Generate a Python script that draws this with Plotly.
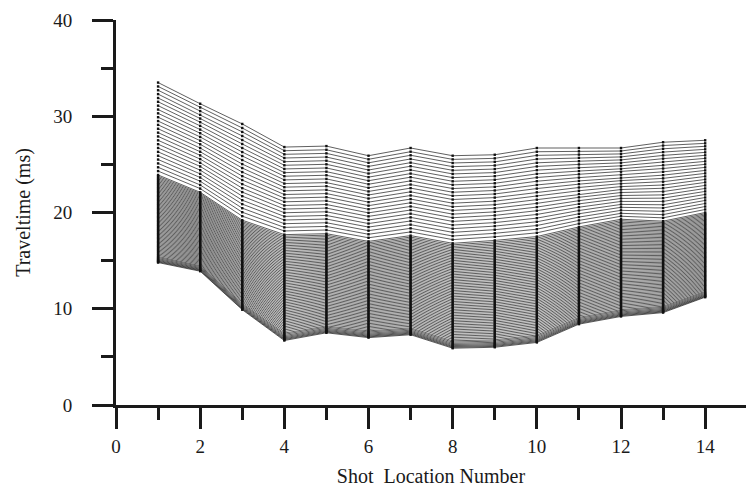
import plotly.graph_objects as go

# Shot locations
shots = [1, 2, 3, 4, 5, 6, 7, 8, 9, 10, 11, 12, 13, 14]

# Envelope curves (ms)
first_arrival = [14.8, 13.9, 9.9, 6.7, 7.5, 7.0, 7.3, 5.9, 6.0, 6.5, 8.4, 9.2, 9.6, 11.2]
dense_top = [23.9, 22.1, 19.2, 17.7, 17.8, 17.0, 17.6, 16.8, 17.1, 17.5, 18.5, 19.3, 19.1, 20.0]
last_arrival = [33.5, 31.3, 29.2, 26.8, 26.9, 25.9, 26.7, 25.9, 26.0, 26.7, 26.7, 26.7, 27.3, 27.5]

# Relative position of each receiver curve inside the dense band (0 = first arrival, 1 = dense top)
dense_pos = [0.000, 0.008, 0.016, 0.025, 0.035, 0.046, 0.058, 0.070,
             0.085, 0.100, 0.115, 0.130, 0.145, 0.160, 0.175, 0.190, 0.205, 0.220,
             0.235, 0.250, 0.265, 0.280, 0.295, 0.310, 0.325, 0.340, 0.355, 0.370,
             0.385, 0.400, 0.415, 0.430, 0.445, 0.460, 0.475, 0.490, 0.505, 0.520,
             0.535, 0.550, 0.565, 0.580, 0.595, 0.610, 0.625, 0.640, 0.655, 0.670,
             0.685, 0.700, 0.715, 0.730, 0.745, 0.760, 0.775, 0.790, 0.805, 0.820,
             0.835, 0.850, 0.865, 0.880, 0.895, 0.910, 0.925, 0.940, 0.955, 0.970,
             0.985, 1.000]
# Relative position of each receiver curve in the sparse band (0 = dense top, 1 = last arrival)
sparse_pos = [0.042, 0.083, 0.125, 0.167, 0.208, 0.250, 0.292, 0.333, 0.375, 0.417,
              0.458, 0.500, 0.542, 0.583, 0.625, 0.667, 0.708, 0.750, 0.792, 0.833,
              0.875, 0.917, 0.958, 1.000]

x_tick_vals = [0, 2, 4, 6, 8, 10, 12, 14]
y_tick_vals = [0, 10, 20, 30, 40]

xs, ys = [], []
for f in dense_pos:
    for i, s in enumerate(shots):
        xs.append(s)
        ys.append(first_arrival[i] + f * (dense_top[i] - first_arrival[i]))
    xs.append(None); ys.append(None)
for g in sparse_pos:
    for i, s in enumerate(shots):
        xs.append(s)
        ys.append(dense_top[i] + g * (last_arrival[i] - dense_top[i]))
    xs.append(None); ys.append(None)

fig = go.Figure()
fig.add_trace(go.Scatter(
    x=xs, y=ys, mode="lines+markers",
    line=dict(color="#1a1a1a", width=0.7),
    marker=dict(color="#111111", size=2.4, symbol="square"),
    connectgaps=False, showlegend=False, hoverinfo="skip",
))

font_family = "Liberation Serif"
fig.update_layout(
    width=746, height=497,
    margin=dict(l=116, r=0, t=20, b=92),
    paper_bgcolor="white", plot_bgcolor="white",
    font=dict(family=font_family, size=19, color="#1a1a1a"),
)
fig.update_xaxes(
    range=[0, 14.97], showgrid=False, zeroline=False,
    showline=True, linecolor="#1a1a1a", linewidth=3,
    tickmode="array", tickvals=x_tick_vals,
    ticks="outside", ticklen=21, tickwidth=3, tickcolor="#1a1a1a",
    minor=dict(dtick=1, tick0=0, ticks="outside", ticklen=12, tickwidth=3, tickcolor="#1a1a1a"),
    ticklabelstandoff=1,
    title=dict(text="Shot  Location Number", font=dict(size=20, family=font_family), standoff=14),
)
fig.update_yaxes(
    range=[0, 40], showgrid=False, zeroline=False,
    showline=True, linecolor="#1a1a1a", linewidth=3,
    tickmode="array", tickvals=y_tick_vals,
    ticks="outside", ticklen=21, tickwidth=3, tickcolor="#1a1a1a",
    minor=dict(dtick=5, tick0=0, ticks="outside", ticklen=12, tickwidth=3, tickcolor="#1a1a1a"),
    ticklabelstandoff=16,
    title=dict(text="Traveltime (ms)", font=dict(size=20, family=font_family), standoff=18),
)

fig.write_html("out.html")
